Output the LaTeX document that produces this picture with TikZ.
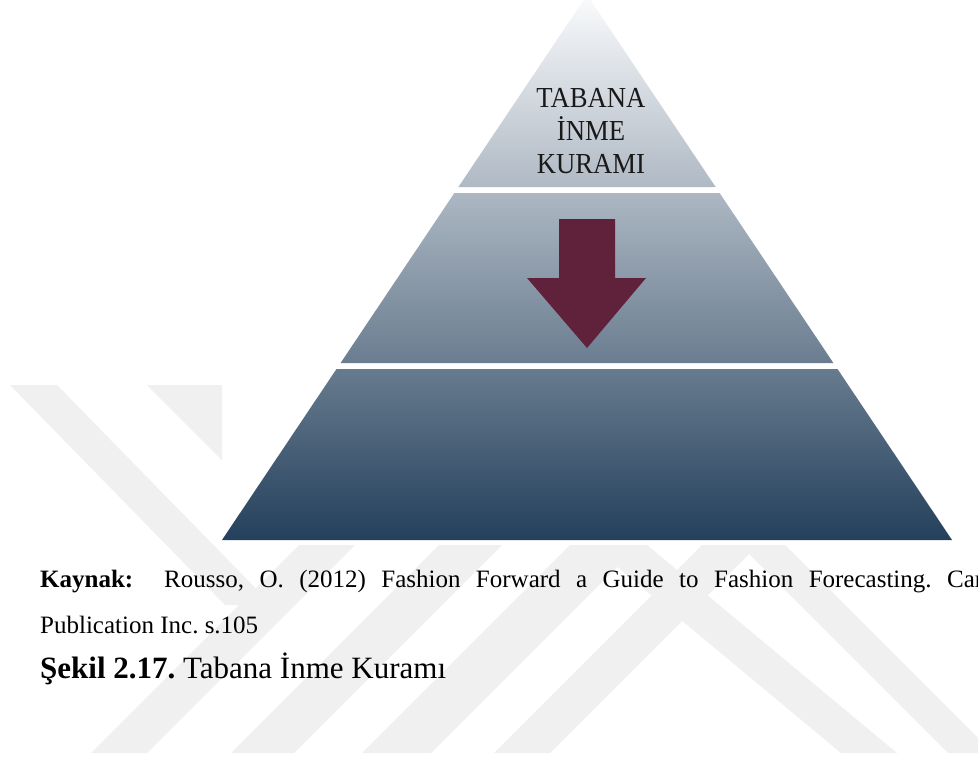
\documentclass[tikz,border=0pt]{standalone}
\usepackage{fontspec}
\setmainfont{Liberation Serif}
\usepackage{graphicx}
\definecolor{wm}{RGB}{240,240,240}
\definecolor{c0}{RGB}{250,251,252}
\definecolor{c1}{RGB}{175,185,196}
\definecolor{c2}{RGB}{172,183,194}
\definecolor{c3}{RGB}{106,125,144}
\definecolor{c4}{RGB}{103,123,142}
\definecolor{c5}{RGB}{36,64,92}
\definecolor{arrowc}{RGB}{95,34,58}
\definecolor{txt}{RGB}{25,25,25}
\frenchspacing
\begin{document}
\begin{tikzpicture}[x=1pt,y=-1pt,
  wmark/.style={fill=wm},
  lbl/.style={anchor=base, inner sep=0pt, text=txt, font=\fontsize{29}{33}\selectfont},
  captxt/.style={anchor=base west, inner sep=0pt, text=black}]
\useasboundingbox (0,0) rectangle (978,760);
\clip (0,0) rectangle (978,760);
\fill[white] (0,0) rectangle (978,760);
% watermark stripes
\fill[wmark] (10,385) -- (57,385) -- (272,605) -- (225,605) -- cycle;
\fill[wmark] (147,385) -- (222,385) -- (222,460) -- cycle;
\fill[wmark] (91,753) -- (147,753) -- (355,545) -- (299,545) -- cycle;
\fill[wmark] (231,753) -- (294,753) -- (502,545) -- (439,545) -- cycle;
\fill[wmark] (362,753) -- (431,753) -- (639,545) -- (570,545) -- cycle;
\fill[wmark] (494,753) -- (550,753) -- (758,545) -- (702,545) -- cycle;
\fill[wmark] (591,545) -- (647,545) -- (897,753) -- (841,753) -- cycle;
\fill[wmark] (740,545) -- (785,545) -- (993,753) -- (948,753) -- cycle;
% pyramid bands
\shade[top color=c0,bottom color=c1] (587,-5) -- (715.6,187) -- (458.4,187) -- cycle;
\shade[top color=c2,bottom color=c3] (454.4,193) -- (719.6,193) -- (833.4,363) -- (340.6,363) -- cycle;
\shade[top color=c4,bottom color=c5] (336.5,369) -- (837.5,369) -- (952,540) -- (222,540) -- cycle;
% arrow
\fill[arrowc] (559,219) -- (615,219) -- (615,278) -- (646,278) -- (587,348) -- (527,278) -- (559,278) -- cycle;
% label
\node[lbl] (t1) at (591,107) {\scalebox{0.92}[1]{TABANA}};
\node[lbl] (t2) at (591,140) {\scalebox{0.92}[1]{İNME}};
\node[lbl] (t3) at (591,173) {\scalebox{0.92}[1]{KURAMI}};
% caption
\node[captxt, font=\fontsize{25}{30}\selectfont] (kay) at (40,587) {\makebox[943pt][s]{\textbf{Kaynak:}\ \ Rousso, O. (2012) Fashion Forward a Guide to Fashion Forecasting. Car}};
\node[captxt, font=\fontsize{25}{30}\selectfont] (pub) at (40,633) {Publication Inc. s.105};
\node[captxt, font=\fontsize{31}{36}\selectfont] (sek) at (40,678) {\textbf{Şekil 2.17.} Tabana İnme Kuramı};
\end{tikzpicture}
\end{document}
